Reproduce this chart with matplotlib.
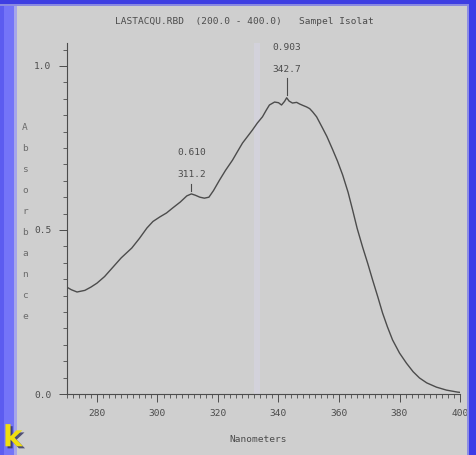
import matplotlib.pyplot as plt
import matplotlib.patheffects as pe
from matplotlib.patches import Rectangle
from matplotlib.ticker import MultipleLocator

# Spectrum (nm, absorbance)
wavelength = [270, 271.5, 273.4, 276, 278, 280, 282.5, 285.3, 288, 291.5,
              294, 296.5, 298.5, 300.8, 303, 305, 307.5, 309.7, 311.2, 312.5,
              314, 315.5, 317, 318.5, 320.5, 322.5, 324.8, 326.5, 328.1, 330,
              331.4, 333, 334.7, 336, 337, 338.7, 340, 341, 342, 342.7,
              343.5, 344.6, 346, 347, 348, 349.3, 350.3, 351.3, 352.6, 354.6,
              356, 357.9, 359.5, 361.2, 363, 364.5, 366, 367.8, 369.5, 371.1,
              372.8, 374.4, 376, 377.7, 380, 382.3, 384.5, 386.6, 389, 392.2,
              395.5, 399.1, 400]
absorbance = [0.326, 0.318, 0.311, 0.316, 0.326, 0.338, 0.358, 0.387, 0.415, 0.445,
              0.474, 0.506, 0.526, 0.540, 0.552, 0.567, 0.585, 0.604, 0.610, 0.606,
              0.600, 0.597, 0.600, 0.620, 0.652, 0.682, 0.713, 0.740, 0.765, 0.788,
              0.805, 0.826, 0.845, 0.866, 0.881, 0.890, 0.888, 0.881, 0.892, 0.903,
              0.893, 0.887, 0.889, 0.884, 0.880, 0.875, 0.870, 0.860, 0.845, 0.81,
              0.785, 0.745, 0.71, 0.668, 0.615, 0.561, 0.505, 0.448, 0.398, 0.348,
              0.297, 0.247, 0.205, 0.165, 0.125, 0.094, 0.068, 0.049, 0.034, 0.021,
              0.012, 0.006, 0.005]

peak_nm = [311.2, 342.7]
peak_abs = [0.610, 0.903]
peak_abs_txt = ["0.610", "0.903"]

BG = "#cfcfcf"
INK = "#4c4c4c"
FONT = "DejaVu Sans Mono"
FS = 6.8

fig = plt.figure(figsize=(4.76, 4.55), dpi=100, facecolor=BG)

# blue slide frame
def frame(x, y, w, h, c):
    fig.patches.append(Rectangle((x / 476, y / 455), w / 476, h / 455,
                                 transform=fig.transFigure, color=c,
                                 linewidth=0, zorder=0))

frame(0, 0, 16, 455, "#7474f8")
frame(0, 0, 4, 455, "#5c5cf0")
frame(14, 0, 3, 455, "#a6a6ea")
frame(0, 451, 476, 4, "#3e3ee2")
frame(0, 449, 476, 2, "#8a8ae0")
frame(469, 0, 7, 455, "#3c3ce8")
frame(467, 0, 2, 449, "#8c8ce4")

ax = fig.add_axes([0.1402, 0.134, 0.9664 - 0.1402, 0.7715])
ax.set_facecolor(BG)

# faint scan streak
ax.axvspan(332.0, 333.8, color="#d3d2db", linewidth=0, zorder=0)

ax.plot(wavelength, absorbance, color=INK, linewidth=1.0)

for nm, a, txt in zip(peak_nm, peak_abs, peak_abs_txt):
    ax.plot([nm, nm], [a + 0.008, a + 0.03 + (0.03 if a > 0.8 else 0)],
            color=INK, linewidth=0.8)
    top = a + (0.085 if a > 0.8 else 0.058)
    ax.text(nm, top, f"{nm:.1f}", ha="center", va="center",
            fontsize=FS, color=INK, family=FONT)
    ax.text(nm, top + 0.067, txt, ha="center", va="center",
            fontsize=FS, color=INK, family=FONT)

ax.set_xlim(270, 400)
ax.set_ylim(0, 1.07)
ax.xaxis.set_minor_locator(MultipleLocator(2))
ax.yaxis.set_minor_locator(MultipleLocator(0.05))
ax.set_xticks([280, 300, 320, 340, 360, 380, 400])
ax.set_yticks([0.0, 0.5, 1.0])
ax.set_yticklabels(["0.0", "0.5", "1.0"])

for s in ["top", "right"]:
    ax.spines[s].set_visible(False)
for s in ["left", "bottom"]:
    ax.spines[s].set_color(INK)
    ax.spines[s].set_linewidth(0.8)

ax.tick_params(axis="both", which="major", length=6, width=0.7, color=INK,
               labelcolor=INK, labelsize=FS, pad=5)
ax.tick_params(axis="both", which="minor", length=3, width=0.6, color=INK)
for lab in ax.get_xticklabels() + ax.get_yticklabels():
    lab.set_family(FONT)

fig.text(244 / 476, 1 - 22 / 455, "LASTACQU.RBD  (200.0 - 400.0)   Sampel Isolat",
         ha="center", va="center", fontsize=FS, color=INK, family=FONT)
fig.text(258 / 476, 1 - 440 / 455, "Nanometers", ha="center", va="center",
         fontsize=FS, color=INK, family=FONT)

# stacked y-axis label
for i, ch in enumerate("Absorbance"):
    fig.text(25 / 476, 1 - (127 + i * 21.1) / 455, ch, ha="center", va="center",
             fontsize=FS, color="#6c6c6c", family=FONT)

fig.text(3 / 476, 0.006, "k", ha="left", va="bottom", fontsize=21,
         fontweight="bold", color="#f0df10", family="DejaVu Sans",
         path_effects=[pe.withSimplePatchShadow(offset=(1.5, -1.5),
                                                shadow_rgbFace="#303060",
                                                alpha=0.8)])

fig.savefig("out.png", dpi=100, facecolor=BG)
